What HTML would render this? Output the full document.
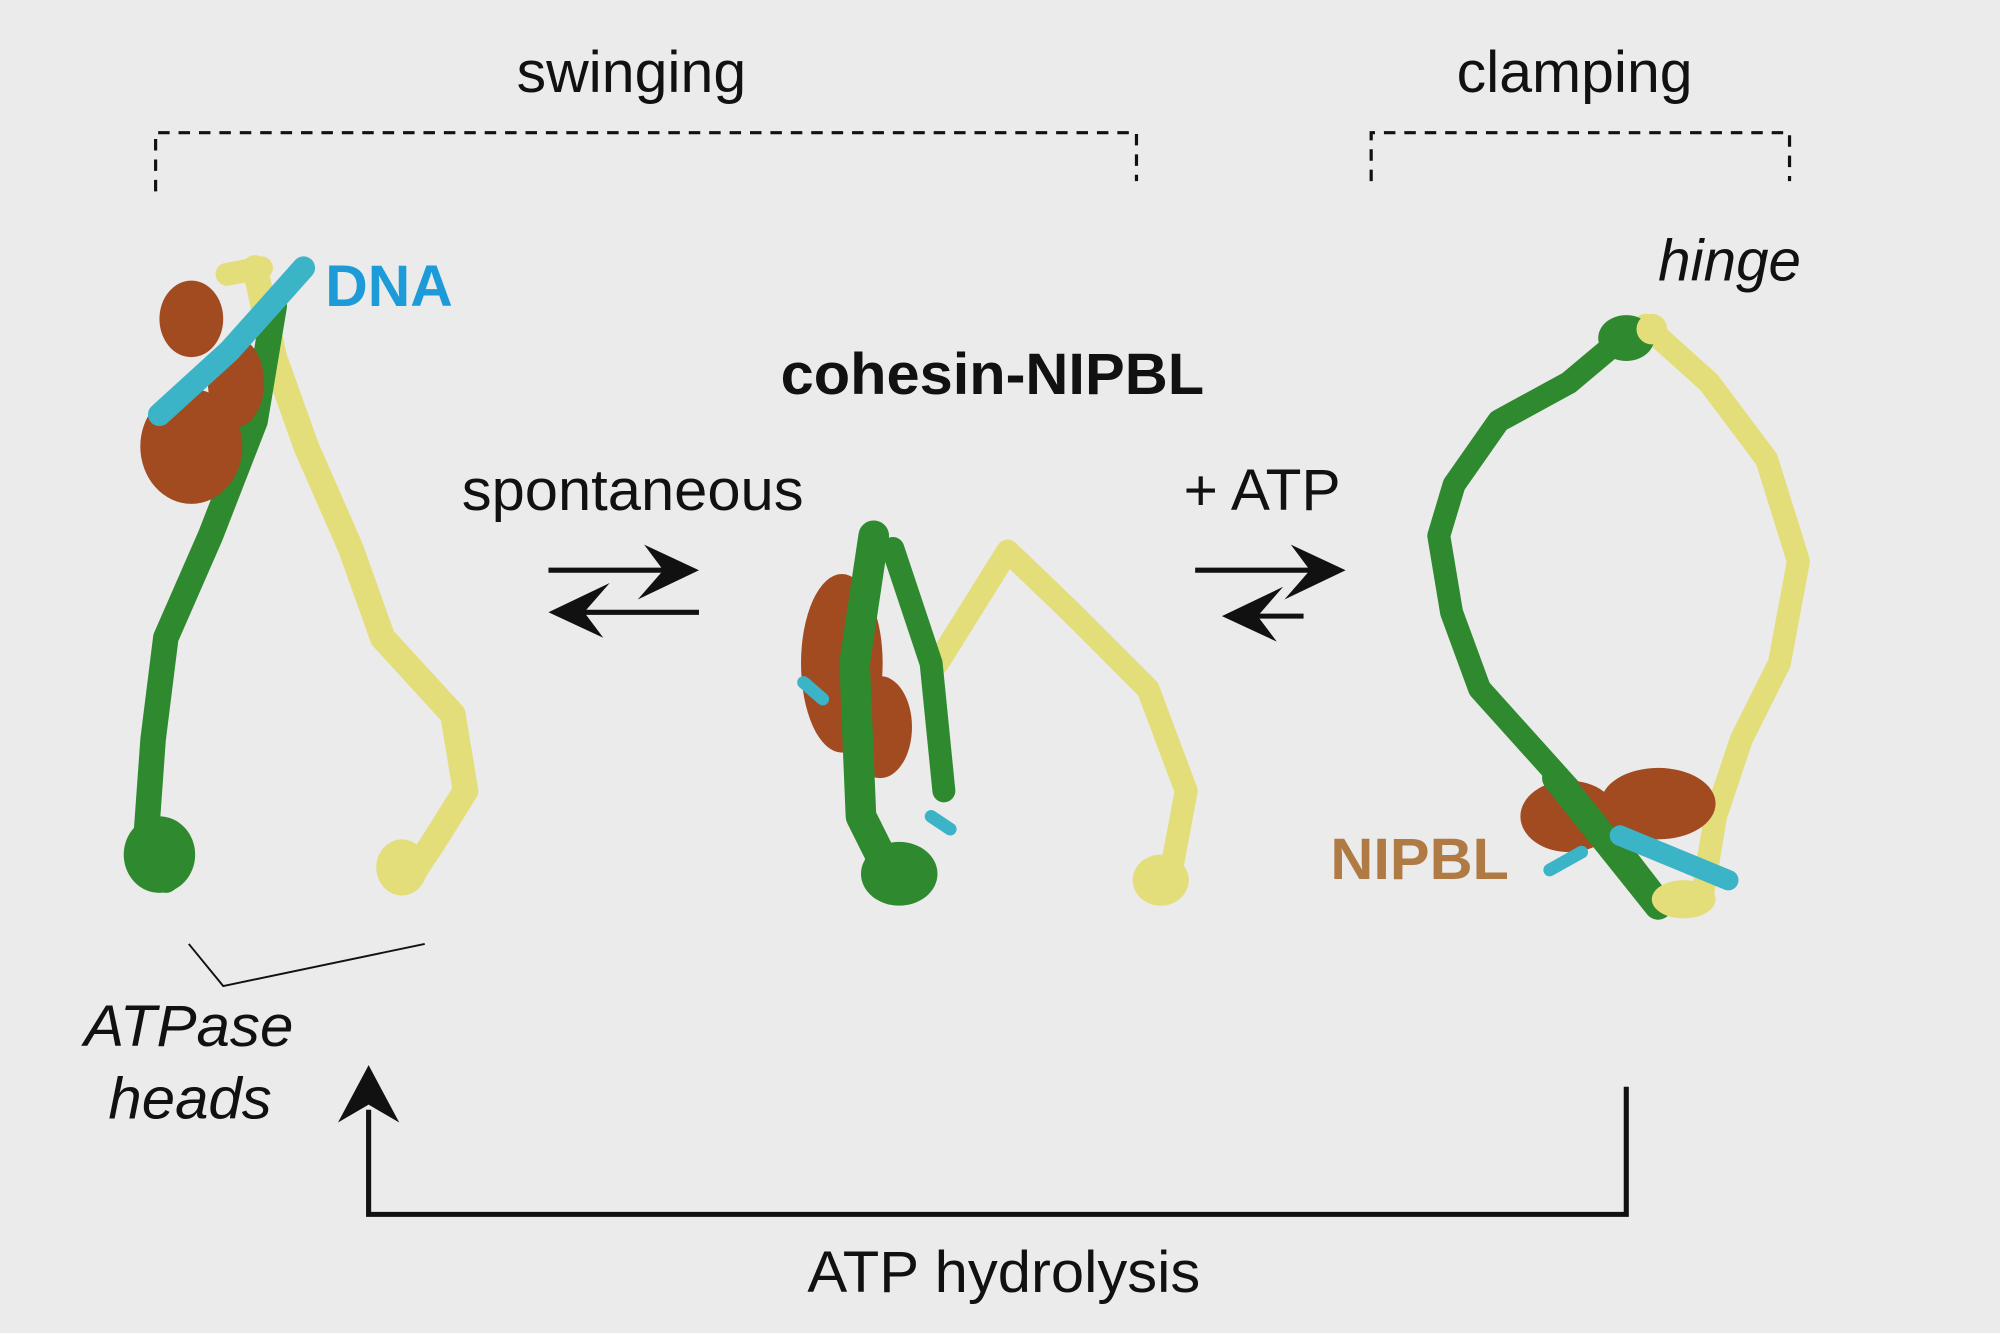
<!DOCTYPE html>
<html><head><meta charset="utf-8"><style>
html,body{margin:0;padding:0;background:#ebebeb;}
svg{display:block;}
text{font-family:"Liberation Sans",sans-serif;}
</style></head><body>
<svg width="2000" height="1333" viewBox="0 0 1568 1045" preserveAspectRatio="none" xmlns="http://www.w3.org/2000/svg">
<rect width="1568" height="1045" fill="#ebebeb"/>
<!-- labels -->
<text x="405" y="72" font-size="46" textLength="180" lengthAdjust="spacingAndGlyphs" fill="#111">swinging</text>
<text x="1142" y="72" font-size="46" textLength="185" lengthAdjust="spacingAndGlyphs" fill="#111">clamping</text>
<path d="M122 150 V104 H891 V142" fill="none" stroke="#111" stroke-width="2.5" stroke-dasharray="9,7"/>
<path d="M1075 142 V104 H1403 V142" fill="none" stroke="#111" stroke-width="2.5" stroke-dasharray="9,7"/>
<text x="255" y="240" font-size="46" font-weight="bold" textLength="100" lengthAdjust="spacingAndGlyphs" fill="#1c9bd8">DNA</text>
<text x="1300" y="220" font-size="46" font-style="italic" textLength="112" lengthAdjust="spacingAndGlyphs" fill="#111">hinge</text>
<text x="612" y="309" font-size="46" font-weight="bold" textLength="332" lengthAdjust="spacingAndGlyphs" fill="#111">cohesin-NIPBL</text>
<text x="362" y="400" font-size="46" textLength="268" lengthAdjust="spacingAndGlyphs" fill="#111">spontaneous</text>
<text x="928" y="400" font-size="46" textLength="123" lengthAdjust="spacingAndGlyphs" fill="#111">+ ATP</text>
<text x="1043" y="689" font-size="46" font-weight="bold" textLength="140" lengthAdjust="spacingAndGlyphs" fill="#b07a45">NIPBL</text>
<text x="66" y="820" font-size="46" font-style="italic" textLength="164" lengthAdjust="spacingAndGlyphs" fill="#111">ATPase</text>
<text x="85" y="877" font-size="46" font-style="italic" textLength="128" lengthAdjust="spacingAndGlyphs" fill="#111">heads</text>
<text x="633" y="1013" font-size="46" textLength="308" lengthAdjust="spacingAndGlyphs" fill="#111">ATP hydrolysis</text>
<!-- arrows -->
<g stroke="#111" stroke-width="4" fill="#111">
<line x1="430" y1="447" x2="540" y2="447"/>
<path d="M548 447 L500 470 L520 447 L505 427 Z" stroke="none"/>
<line x1="548" y1="480" x2="440" y2="480"/>
<path d="M430 480 L478 457 L458 480 L473 500 Z" stroke="none"/>
<line x1="937" y1="447" x2="1045" y2="447"/>
<path d="M1055 447 L1007 470 L1027 447 L1012 427 Z" stroke="none"/>
<line x1="1022" y1="483" x2="968" y2="483"/>
<path d="M958 483 L1006 460 L986 483 L1001 503 Z" stroke="none"/>
<path d="M1275 852 V952 H289 V870" fill="none"/>
<path d="M289 835 L313 880 L289 866 L265 880 Z" stroke="none"/>
</g>
<path d="M148 740 L175 773 L333 740" fill="none" stroke="#111" stroke-width="1.5"/>
<!-- left structure -->
<g fill="none" stroke-linecap="round" stroke-linejoin="round">
<path d="M200 210 L215 280 L240 350 L275 430 L300 500 L355 560 L365 620 L340 660 L320 690" stroke="#e3de7a" stroke-width="20"/>
<path d="M215 240 L200 330 L165 420 L130 500 L120 580 L115 650 L130 690" stroke="#2f8a2f" stroke-width="20"/>
<ellipse cx="125" cy="670" rx="28" ry="30" fill="#2f8a2f" stroke="none"/>
<ellipse cx="315" cy="680" rx="20" ry="22" fill="#e3de7a" stroke="none"/>
<ellipse cx="150" cy="250" rx="25" ry="30" fill="#a24a20" stroke="none"/>
<ellipse cx="150" cy="350" rx="40" ry="45" fill="#a24a20" stroke="none"/>
<ellipse cx="185" cy="300" rx="22" ry="35" fill="#a24a20" stroke="none"/>
<path d="M125 325 L180 275 L238 210" stroke="#3cb4c8" stroke-width="18"/>
<path d="M178 215 L205 210" stroke="#e3de7a" stroke-width="18"/>
</g>
<!-- middle structure -->
<g fill="none" stroke-linecap="round" stroke-linejoin="round">
<path d="M735 520 L790 432 L840 480 L900 540 L930 620 L915 700" stroke="#e3de7a" stroke-width="18"/>
<ellipse cx="910" cy="690" rx="22" ry="20" fill="#e3de7a" stroke="none"/>
<ellipse cx="660" cy="520" rx="32" ry="70" fill="#a24a20" stroke="none"/>
<ellipse cx="690" cy="570" rx="25" ry="40" fill="#a24a20" stroke="none"/>
<path d="M685 420 L670 520 L675 640 L700 690" stroke="#2f8a2f" stroke-width="24"/>
<path d="M700 430 L730 520 L740 620" stroke="#2f8a2f" stroke-width="18"/>
<ellipse cx="705" cy="685" rx="30" ry="25" fill="#2f8a2f" stroke="none"/>
<path d="M630 535 L645 548" stroke="#3cb4c8" stroke-width="10"/>
<path d="M730 640 L745 650" stroke="#3cb4c8" stroke-width="10"/>
</g>
<!-- right structure -->
<g fill="none" stroke-linecap="round" stroke-linejoin="round">
<path d="M1290 255 L1340 300 L1385 360 L1410 440 L1395 520 L1365 580 L1345 640 L1335 700" stroke="#e3de7a" stroke-width="18"/>
<path d="M1280 258 L1230 300 L1175 330 L1140 380 L1128 420 L1138 480 L1160 540 L1205 590 L1250 640 L1300 705" stroke="#2f8a2f" stroke-width="18"/>
<ellipse cx="1275" cy="265" rx="22" ry="18" fill="#2f8a2f" stroke="none"/>
<ellipse cx="1295" cy="258" rx="12" ry="12" fill="#e3de7a" stroke="none"/>
<ellipse cx="1230" cy="640" rx="38" ry="28" fill="#a24a20" stroke="none"/>
<ellipse cx="1300" cy="630" rx="45" ry="28" fill="#a24a20" stroke="none"/>
<path d="M1220 610 L1300 710" stroke="#2f8a2f" stroke-width="22"/>
<path d="M1270 655 L1355 690" stroke="#3cb4c8" stroke-width="16"/>
<path d="M1215 682 L1240 668" stroke="#3cb4c8" stroke-width="10"/>
<ellipse cx="1320" cy="705" rx="25" ry="15" fill="#e3de7a" stroke="none"/>
</g>
</svg>
</body></html>
